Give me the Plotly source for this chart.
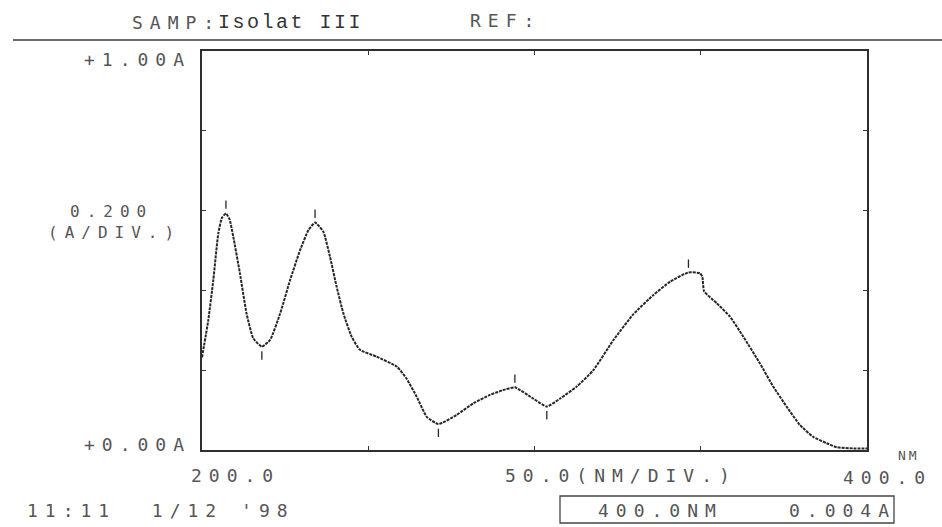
import plotly.graph_objects as go

# UV-Vis absorbance scan, sample "Isolat III"
wavelength_nm = [200.0, 201.9, 203.4, 204.9, 206.0, 207.2, 208.3, 209.4, 211.4, 213.4,
                 215.4, 218.0, 220.5, 223.5, 226.5, 229.5, 232.0, 234.0, 236.5, 238.5,
                 240.5, 242.5, 245.0, 247.5, 252.5, 258.6, 261.6, 264.6, 267.6, 271.1,
                 276.6, 281.6, 286.6, 290.5, 294.1, 299.6, 303.7, 307.7, 312.7, 317.7,
                 323.7, 329.7, 335.7, 340.8, 346.3, 349.8, 350.5, 351.0, 354.8, 358.8,
                 362.8, 367.8, 371.8, 375.8, 379.8, 383.8, 387.9, 390.9, 395.9, 400.0]
absorbance = [0.232, 0.326, 0.426, 0.543, 0.582, 0.593, 0.578, 0.535, 0.443, 0.342,
              0.280, 0.259, 0.276, 0.342, 0.426, 0.501, 0.551, 0.570, 0.547, 0.484,
              0.409, 0.343, 0.284, 0.251, 0.234, 0.209, 0.178, 0.133, 0.083, 0.065,
              0.088, 0.117, 0.138, 0.150, 0.157, 0.129, 0.109, 0.129, 0.159, 0.200,
              0.275, 0.340, 0.388, 0.422, 0.445, 0.443, 0.433, 0.398, 0.368, 0.334,
              0.284, 0.217, 0.159, 0.109, 0.063, 0.033, 0.017, 0.007, 0.004, 0.004]

# wavelengths flagged by the peak pick
peak_nm = [207.2, 234.0, 294.1, 346.3]
valley_nm = [218.0, 271.1, 303.7]

x_range = [200.0, 400.0]
y_range = [0.0, 1.0]
x_div = 50.0
y_div = 0.2

lookup = dict(zip(wavelength_nm, absorbance))
peak_a = [lookup[w] for w in peak_nm]
valley_a = [lookup[w] for w in valley_nm]

W_FIG, H_FIG = 942, 527
L, R, T, B = 202, 867, 51, 450
PW, PH = R - L, B - T

INK = "#262626"
TXT = "#555555"
MONO = "DejaVu Sans Mono"


def px(x):
    return (x - L) / PW


def py(y):
    return (B - y) / PH


def spaced(s, gap):
    return f'<span style="letter-spacing:{gap}px">{s}</span>'


fig = go.Figure()

fig.add_trace(go.Scatter(
    x=wavelength_nm, y=absorbance, mode="lines",
    line=dict(color=INK, width=2, dash="3px,1px", shape="spline", smoothing=0.45),
    hoverinfo="skip", showlegend=False,
))

mark_off = 0.022
fig.add_trace(go.Scatter(
    x=peak_nm, y=[a + mark_off for a in peak_a], mode="markers",
    marker=dict(symbol="line-ns", size=6, line=dict(color=INK, width=1.3)),
    hoverinfo="skip", showlegend=False,
))
fig.add_trace(go.Scatter(
    x=valley_nm, y=[a - mark_off for a in valley_a], mode="markers",
    marker=dict(symbol="line-ns", size=6, line=dict(color=INK, width=1.3)),
    hoverinfo="skip", showlegend=False,
))

axis_common = dict(
    showgrid=False, zeroline=False, showticklabels=False,
    showline=True, linecolor="#2e2e2e", linewidth=1.6, mirror="ticks",
    ticks="inside", ticklen=4, tickwidth=1.3, tickcolor="#333333",
)
fig.update_xaxes(range=x_range, tick0=x_range[0], dtick=x_div, **axis_common)
fig.update_yaxes(range=y_range, tick0=y_range[0], dtick=y_div, **axis_common)


def label(text, x, y, anchor="left", size=18, family=MONO, color=TXT, gap=7.0):
    shift = gap if anchor == "right" else (gap / 2 if anchor == "center" else 0)
    fig.add_annotation(
        text=spaced(text, gap) if gap else text,
        x=px(x + shift), y=py(y), xref="paper", yref="paper",
        xanchor=anchor, yanchor="middle", showarrow=False,
        font=dict(family=family, size=size, color=color),
    )


# header
label("SAMP:", 130, 22)
label("Isolat III", 216, 22, family="Liberation Mono", size=20, color="#333333", gap=2.5)
label("REF:", 468, 21)

# axis scale labels
label("+1.00A", 186, 59, anchor="right")
label("+0.00A", 186, 444, anchor="right")
label(f"{y_div:.3f}", 108, 211, anchor="center", size=16)
label("(A/DIV.)", 111, 232, anchor="center", size=16)
label(f"{x_range[0]:.1f}", 232, 476, anchor="center")
label(f"{x_div:.1f}(NM/DIV.)", 503, 476)
label("NM", 907, 455, anchor="center", size=13, gap=3)
label(f"{x_range[1]:.1f}", 927, 477, anchor="right")

# footer
label("11:11  1/12 '98", 25, 510)
label(f"{x_range[1]:.1f}NM", 596, 510)
label(f"{absorbance[-1]:.3f}A", 891, 510, anchor="right")

shapes = [
    dict(type="line", xref="paper", yref="paper",
         x0=px(13), x1=px(942), y0=py(40), y1=py(40),
         line=dict(color="#3a3a3a", width=1.5)),
    dict(type="rect", xref="paper", yref="paper",
         x0=px(560), x1=px(894), y0=py(496), y1=py(523),
         line=dict(color="#444444", width=1.3)),
]

fig.update_layout(
    width=W_FIG, height=H_FIG,
    margin=dict(l=L, r=W_FIG - R, t=T, b=H_FIG - B),
    paper_bgcolor="white", plot_bgcolor="white",
    shapes=shapes, showlegend=False,
)

fig.write_html("out.html")
